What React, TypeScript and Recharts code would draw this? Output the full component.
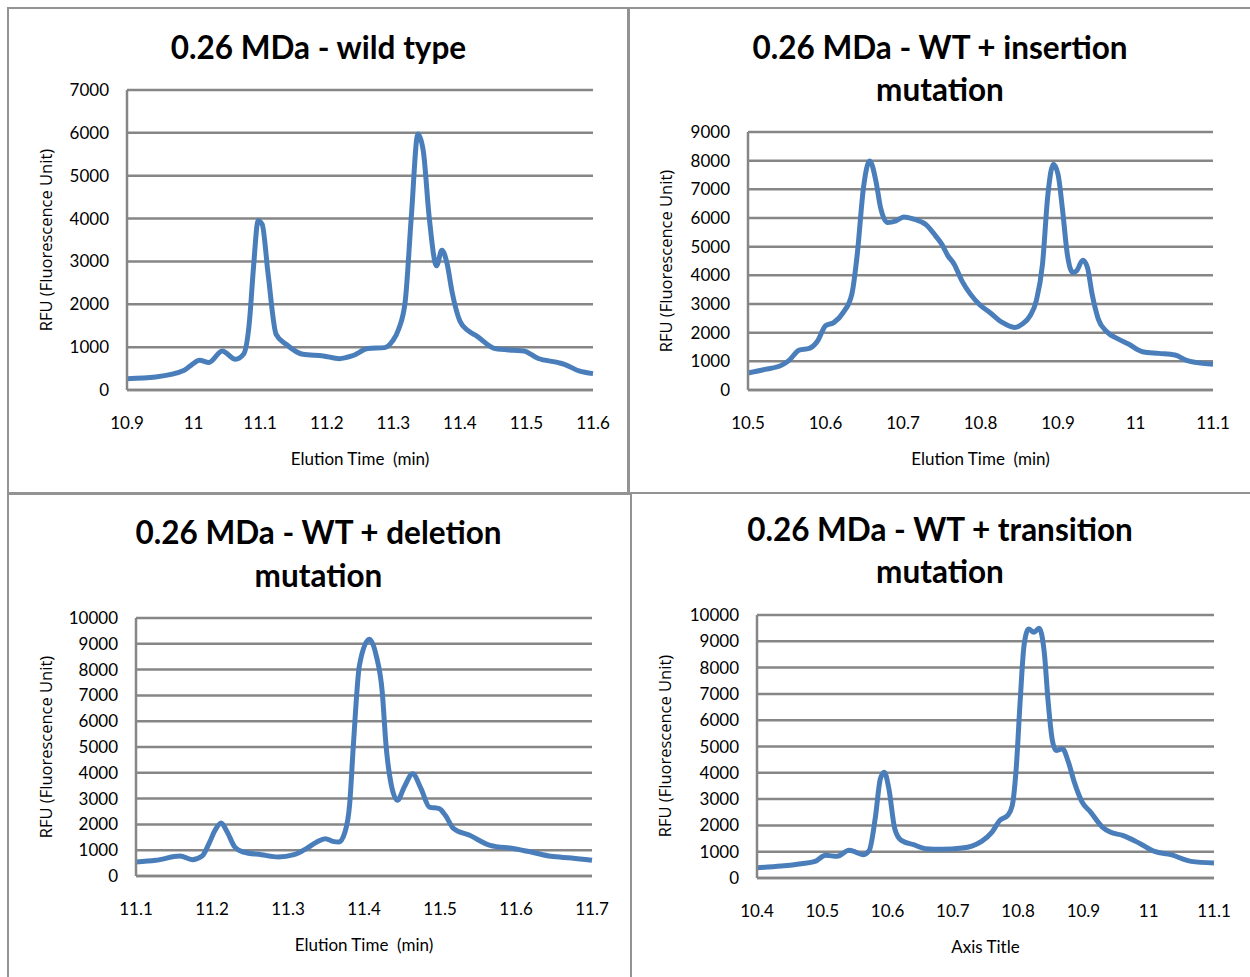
import React from 'react';
import { LineChart, Line, XAxis, YAxis, CartesianGrid } from 'recharts';

// ---------- Data ----------
const wildTime = [10.9, 10.943, 10.986, 10.998, 11.009, 11.023, 11.043, 11.063, 11.075, 11.084, 11.09, 11.097, 11.103, 11.112, 11.124, 11.139, 11.164, 11.195, 11.219, 11.238, 11.262, 11.287, 11.299, 11.308, 11.318, 11.327, 11.337, 11.345, 11.354, 11.365, 11.373, 11.381, 11.388, 11.4, 11.413, 11.425, 11.453, 11.481, 11.496, 11.517, 11.548, 11.557, 11.579, 11.6];
const wildRfu = [265, 304, 460, 600, 693, 640, 911, 716, 833, 1612, 2860, 3950, 3870, 2700, 1300, 1067, 833, 794, 732, 794, 966, 989, 1145, 1417, 2080, 4026, 5973, 5584, 4026, 2900, 3263, 2936, 2313, 1612, 1378, 1262, 966, 927, 911, 740, 638, 600, 444, 382];

const insTime = [10.5, 10.522, 10.543, 10.553, 10.566, 10.579, 10.59, 10.6, 10.611, 10.623, 10.634, 10.641, 10.649, 10.657, 10.665, 10.671, 10.68, 10.691, 10.701, 10.714, 10.73, 10.742, 10.75, 10.758, 10.766, 10.776, 10.787, 10.799, 10.812, 10.828, 10.844, 10.854, 10.864, 10.872, 10.88, 10.887, 10.894, 10.9, 10.906, 10.912, 10.919, 10.924, 10.932, 10.938, 10.944, 10.952, 10.963, 10.978, 10.991, 11.009, 11.03, 11.051, 11.066, 11.077, 11.1];
const insRfu = [592, 720, 859, 1034, 1394, 1452, 1719, 2241, 2358, 2706, 3345, 4739, 7062, 7991, 7294, 6365, 5842, 5900, 6039, 5958, 5761, 5377, 5087, 4681, 4390, 3809, 3345, 2973, 2706, 2358, 2183, 2300, 2590, 3113, 4390, 6829, 7875, 7526, 6249, 4739, 4100, 4158, 4530, 4274, 3345, 2474, 2032, 1777, 1603, 1336, 1278, 1219, 1034, 964, 900];

const delTime = [11.1, 11.126, 11.158, 11.174, 11.187, 11.196, 11.204, 11.212, 11.22, 11.23, 11.241, 11.265, 11.287, 11.308, 11.324, 11.338, 11.349, 11.359, 11.367, 11.375, 11.381, 11.386, 11.394, 11.407, 11.416, 11.424, 11.429, 11.436, 11.444, 11.453, 11.464, 11.475, 11.486, 11.499, 11.507, 11.518, 11.539, 11.566, 11.598, 11.62, 11.646, 11.673, 11.7];
const delRfu = [543, 607, 775, 633, 775, 1253, 1770, 2054, 1705, 1124, 930, 827, 736, 827, 1059, 1318, 1447, 1344, 1318, 1705, 2739, 5065, 8165, 9173, 8553, 7132, 5065, 3514, 2933, 3450, 3966, 3385, 2674, 2610, 2351, 1835, 1576, 1189, 1059, 930, 762, 698, 607];

const trnTime = [10.4, 10.437, 10.468, 10.489, 10.505, 10.523, 10.541, 10.551, 10.563, 10.572, 10.581, 10.589, 10.595, 10.602, 10.611, 10.621, 10.64, 10.658, 10.683, 10.714, 10.729, 10.744, 10.76, 10.772, 10.784, 10.791, 10.797, 10.803, 10.809, 10.816, 10.824, 10.832, 10.84, 10.846, 10.852, 10.858, 10.868, 10.877, 10.886, 10.898, 10.911, 10.929, 10.941, 10.96, 10.987, 11.009, 11.034, 11.065, 11.1];
const trnRfu = [392, 456, 544, 633, 861, 823, 1051, 987, 886, 1051, 2253, 3772, 4025, 3392, 1873, 1430, 1266, 1114, 1089, 1139, 1215, 1392, 1747, 2190, 2380, 2759, 4152, 6684, 8835, 9468, 9342, 9494, 8582, 6684, 5291, 4848, 4911, 4405, 3646, 2886, 2506, 1937, 1747, 1620, 1304, 1013, 886, 633, 570];

const wildXTicks = [10.9, 11.0, 11.1, 11.2, 11.3, 11.4, 11.5, 11.6];
const insXTicks = [10.5, 10.6, 10.7, 10.8, 10.9, 11.0, 11.1];
const delXTicks = [11.1, 11.2, 11.3, 11.4, 11.5, 11.6, 11.7];
const trnXTicks = [10.4, 10.5, 10.6, 10.7, 10.8, 10.9, 11.0, 11.1];

const wildYTicks = [0, 1000, 2000, 3000, 4000, 5000, 6000, 7000];
const insYTicks = [0, 1000, 2000, 3000, 4000, 5000, 6000, 7000, 8000, 9000];
const tenKYTicks = [0, 1000, 2000, 3000, 4000, 5000, 6000, 7000, 8000, 9000, 10000];

const titleWild = ['0.26 MDa - wild type'];
const titleIns = ['0.26 MDa - WT + insertion', 'mutation'];
const titleDel = ['0.26 MDa - WT + deletion', 'mutation'];
const titleTrn = ['0.26 MDa - WT + transition', 'mutation'];

const yTitle = 'RFU (Fluorescence Unit)';
const xTitleElution = 'Elution Time  (min)';
const xTitleAxis = 'Axis Title';

// ---------- Styles ----------
const GRID = '#868686';
const LINE = '#4a7ebb';
const BORDER = '#939393';

const fmt = (v: number) => String(Number(v.toFixed(1)));

function build(time: number[], rfu: number[]) {
  return time.map((t, i) => ({ t, v: rfu[i] }));
}

type PanelProps = {
  time: number[];
  rfu: number[];
  xTicks: number[];
  yTicks: number[];
  plot: { L: number; R: number; T: number; B: number };
  box: { left: number; top: number; width: number; height: number };
  title: string[];
  titleX: number;
  titleY: number[];
  yLabelX: number;
  xTitle: string;
  xTitleY: number;
};

function Panel(p: PanelProps) {
  const { L, R, T, B } = p.plot;
  const data = build(p.time, p.rfu);
  const yAxisW = 80;
  const xAxisH = 50;
  const mTop = 20;
  const mRight = 20;
  const w = R - L + yAxisW + mRight;
  const h = B - T + mTop + xAxisH;
  const xMin = p.xTicks[0];
  const xMax = p.xTicks[p.xTicks.length - 1];
  const yMax = p.yTicks[p.yTicks.length - 1];
  return (
    <>
      <div
        style={{
          position: 'absolute',
          left: p.box.left,
          top: p.box.top,
          width: p.box.width,
          height: p.box.height,
          border: `2px solid ${BORDER}`,
          boxSizing: 'border-box',
          background: '#fff',
        }}
      />
      {p.title.map((line, i) => (
        <div
          key={i}
          style={{
            position: 'absolute',
            left: p.titleX,
            top: p.titleY[i],
            transform: 'translate(-50%, -50%)',
            fontFamily: 'Lato, sans-serif',
            fontWeight: 700,
            fontSize: 31.5,
            lineHeight: '38px',
            whiteSpace: 'nowrap',
            color: '#000',
          }}
        >
          {line}
        </div>
      ))}
      <div
        style={{
          position: 'absolute',
          left: p.yLabelX,
          top: (T + B) / 2,
          transform: 'translate(-50%, -50%) rotate(-90deg)',
          fontFamily: '"Open Sans", sans-serif',
          fontSize: 16.5,
          lineHeight: '20px',
          whiteSpace: 'nowrap',
          color: '#000',
        }}
      >
        {yTitle}
      </div>
      <div
        style={{
          position: 'absolute',
          left: (L + R) / 2,
          top: p.xTitleY,
          transform: 'translate(-50%, -50%)',
          fontFamily: 'Lato, sans-serif',
          fontSize: 17,
          lineHeight: '20px',
          whiteSpace: 'pre',
          color: '#000',
        }}
      >
        {p.xTitle}
      </div>
      <div style={{ position: 'absolute', left: L - yAxisW, top: T - mTop, width: w, height: h }}>
        <LineChart
          width={w}
          height={h}
          data={data}
          margin={{ top: mTop, right: mRight, bottom: 0, left: 0 }}
        >
          <CartesianGrid vertical={false} stroke={GRID} strokeWidth={2.5} />
          <XAxis
            dataKey="t"
            type="number"
            domain={[xMin, xMax]}
            ticks={p.xTicks}
            interval={0}
            tickFormatter={fmt}
            height={xAxisH}
            tickLine={false}
            tickSize={0}
            tickMargin={26.5}
            axisLine={{ stroke: GRID, strokeWidth: 2.5 }}
            tick={{ fontFamily: 'Lato, sans-serif', fontSize: 17, fill: '#000' }}
          />
          <YAxis
            type="number"
            domain={[0, yMax]}
            ticks={p.yTicks}
            interval={0}
            width={yAxisW}
            tickLine={false}
            tickSize={0}
            tickMargin={18}
            axisLine={{ stroke: GRID, strokeWidth: 2.5 }}
            tick={{ fontFamily: 'Lato, sans-serif', fontSize: 17, fill: '#000' }}
          />
          <Line
            type="monotone"
            dataKey="v"
            stroke={LINE}
            strokeWidth={5}
            dot={false}
            activeDot={false}
            isAnimationActive={false}
          />
        </LineChart>
      </div>
    </>
  );
}

export default function App() {
  return (
    <div
      style={{
        position: 'absolute',
        left: 0,
        top: 0,
        width: 1250,
        height: 977,
        overflow: 'hidden',
        background: '#fff',
      }}
    >
      <Panel
        time={wildTime}
        rfu={wildRfu}
        xTicks={wildXTicks}
        yTicks={wildYTicks}
        plot={{ L: 127, R: 593, T: 89.5, B: 389.5 }}
        box={{ left: 7, top: 7, width: 622, height: 487 }}
        title={titleWild}
        titleX={318.5}
        titleY={[46.5]}
        yLabelX={46}
        xTitle={xTitleElution}
        xTitleY={459}
      />
      <Panel
        time={insTime}
        rfu={insRfu}
        xTicks={insXTicks}
        yTicks={insYTicks}
        plot={{ L: 748, R: 1213, T: 131.5, B: 389.5 }}
        box={{ left: 628, top: 7, width: 626, height: 487 }}
        title={titleIns}
        titleX={940}
        titleY={[46.5, 88.5]}
        yLabelX={666}
        xTitle={xTitleElution}
        xTitleY={459}
      />
      <Panel
        time={delTime}
        rfu={delRfu}
        xTicks={delXTicks}
        yTicks={tenKYTicks}
        plot={{ L: 136, R: 592, T: 617.5, B: 875.5 }}
        box={{ left: 7, top: 493, width: 625, height: 490 }}
        title={titleDel}
        titleX={318.5}
        titleY={[532, 575]}
        yLabelX={46}
        xTitle={xTitleElution}
        xTitleY={945}
      />
      <Panel
        time={trnTime}
        rfu={trnRfu}
        xTicks={trnXTicks}
        yTicks={tenKYTicks}
        plot={{ L: 757, R: 1214, T: 614.5, B: 877.5 }}
        box={{ left: 630, top: 492, width: 624, height: 490 }}
        title={titleTrn}
        titleX={940}
        titleY={[528.5, 571]}
        yLabelX={665}
        xTitle={xTitleAxis}
        xTitleY={946.5}
      />
    </div>
  );
}
